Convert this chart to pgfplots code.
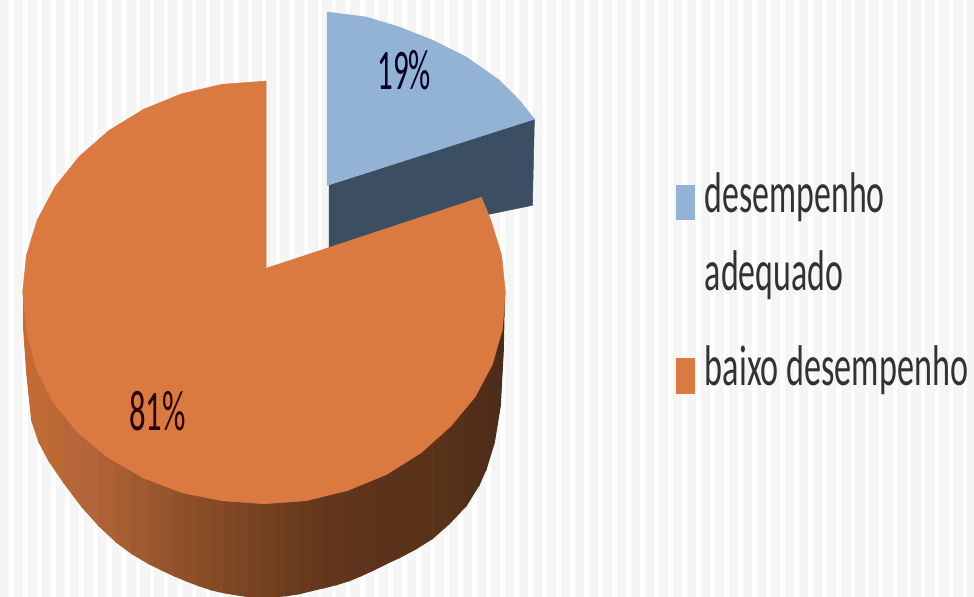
\documentclass[border=0pt]{standalone}
\usepackage{fontspec}
\setmainfont{Carlito}
\usepackage{graphicx}
\usepackage{pgfplots}
\pgfplotsset{compat=1.18}
\newcommand{\st}[7]{\addplot[draw={rgb,255:red,#5;green,#6;blue,#7},line width=0.7pt,fill={rgb,255:red,#5;green,#6;blue,#7}] coordinates {(#1,288) (#3,288) (#3,#4) (#1,#2)} --cycle;}
\newcommand{\lab}[5]{\node[anchor=base west,inner sep=0pt,text=#4] at (axis cs:#1,#2) {\scalebox{#5}[1]{\fontsize{43}{50}\selectfont #3}};}
\definecolor{topblue}{RGB}{146,179,212}
\definecolor{sideblue}{RGB}{60,78,98}
\definecolor{toporange}{RGB}{218,122,64}
\definecolor{stripe}{RGB}{245,245,246}
\definecolor{txt}{RGB}{50,50,52}
\begin{document}
\begin{tikzpicture}
\begin{axis}[
  scale only axis, width=730.5pt, height=447pt,
  xmin=0, xmax=974, ymin=0, ymax=596, y dir=reverse,
  hide axis, clip=true]
% background stripes
\addplot[ycomb, no marks, color=stripe, line width=7pt] coordinates {
(6,596)(20,596)(34,596)(48,596)(62,596)(76,596)(90,596)(104,596)(118,596)(132,596)(146,596)(160,596)(174,596)(188,596)(202,596)(216,596)(230,596)(244,596)(258,596)(272,596)(286,596)(300,596)(314,596)(328,596)(342,596)(356,596)(370,596)(384,596)(398,596)(412,596)(426,596)(440,596)(454,596)(468,596)(482,596)(496,596)(510,596)(524,596)(538,596)(552,596)(566,596)(580,596)(594,596)(608,596)(622,596)(636,596)(650,596)(664,596)(678,596)(692,596)(706,596)(720,596)(734,596)(748,596)(762,596)(776,596)(790,596)(804,596)(818,596)(832,596)(846,596)(860,596)(874,596)(888,596)(902,596)(916,596)(930,596)(944,596)(958,596)(972,596)};
% blue slice: side, then top
\addplot[fill=sideblue, draw=sideblue] coordinates {(330,185) (535,119) (533,205) (330,247)} --cycle;
\addplot[fill=topblue, draw=topblue] coordinates {(328,185) (328,12) (367,17) (400,27) (433,40) (467,57) (500,80) (520,100) (535,119)} --cycle;
% orange side, strips from left to right
\st{25}{330}{28}{373}{198}{106}{50}
\st{28}{373}{33}{420}{196}{106}{50}
\st{33}{420}{40}{441}{194}{106}{52}
\st{40}{441}{50}{460}{192}{106}{53}
\st{50}{460}{65}{482}{188}{105}{54}
\st{65}{482}{83}{506}{182}{102}{56}
\st{83}{506}{100}{525}{178}{100}{58}
\st{100}{525}{117}{541}{174}{97}{54}
\st{117}{541}{133}{553}{168}{94}{51}
\st{133}{553}{150}{563}{160}{90}{48}
\st{150}{563}{162}{569}{153}{87}{45}
\st{162}{569}{175}{575}{149}{84}{44}
\st{175}{575}{187}{580}{145}{82}{42}
\st{187}{580}{200}{585}{140}{79}{40}
\st{200}{585}{212}{589}{136}{76}{39}
\st{212}{589}{225}{592}{132}{74}{38}
\st{225}{592}{237}{594}{128}{71}{37}
\st{237}{594}{250}{596}{124}{69}{35}
\st{250}{596}{262}{596}{120}{67}{34}
\st{262}{596}{275}{596}{116}{65}{32}
\st{275}{596}{287}{595}{112}{62}{31}
\st{287}{595}{300}{593}{108}{60}{30}
\st{300}{593}{312}{590}{105}{58}{29}
\st{312}{590}{325}{587}{101}{56}{29}
\st{325}{587}{337}{584}{98}{54}{28}
\st{337}{584}{350}{580}{96}{53}{28}
\st{350}{580}{362}{575}{94}{52}{27}
\st{362}{575}{375}{569}{93}{52}{27}
\st{375}{569}{387}{563}{92}{51}{26}
\st{387}{563}{400}{557}{91}{51}{26}
\st{400}{557}{417}{548}{90}{51}{26}
\st{417}{548}{433}{538}{89}{50}{25}
\st{433}{538}{450}{523}{88}{50}{25}
\st{450}{523}{467}{505}{86}{49}{25}
\st{467}{505}{480}{484}{82}{47}{25}
\st{480}{484}{487}{468}{80}{46}{25}
\st{487}{468}{495}{442}{78}{45}{25}
\st{495}{442}{501}{405}{76}{45}{25}
\st{501}{405}{504}{350}{74}{44}{25}
\st{504}{350}{505}{300}{72}{43}{25}
% orange top face
\addplot[fill=toporange, draw=toporange] coordinates {
(267,268) (482,197) (491.5,219.8) (502.3,255.3) (506,292) (503,329) (493,364) (476,396) (452,425) (422,452) (387,474) (348,490) (307,500) (265,503)
(223,500) (183,492) (144,477) (108,456) (78,431) (54,401) (37,367) (27.7,329) (24,292) (27.7,255.3) (38.5,219.8) (56.3,186.5) (80.4,156.4) (110,130.4) (144.5,109.3) (182.6,93.7) (223.1,84.2) (267,81)} --cycle;
% legend swatches
\addplot[fill=topblue, draw=none] coordinates {(676,185) (695,185) (695,220) (676,220)} --cycle;
\addplot[fill=toporange, draw=none] coordinates {(676,358) (695,358) (695,393) (676,393)} --cycle;
% texts
\lab{705}{212}{desempenho}{txt}{0.59}
\lab{705}{290}{adequado}{txt}{0.59}
\lab{705}{385}{baixo desempenho}{txt}{0.595}
\lab{378}{89}{19\%}{black!75!blue!60!black}{0.54}
\lab{130}{430}{81\%}{black!60!red!40!black}{0.57}
\end{axis}
\end{tikzpicture}
\end{document}
